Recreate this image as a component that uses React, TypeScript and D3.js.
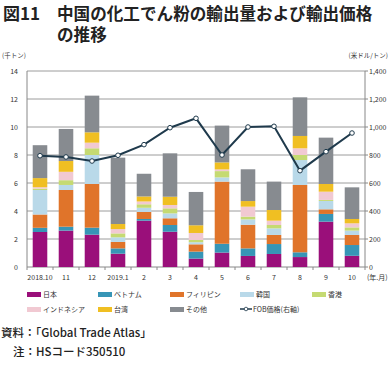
import React from "react";
import * as d3 from "d3";

const categories = ["2018.10", "11", "12", "2019.1", "2", "3", "4", "5", "6", "7", "8", "9", "10"];
const seriesNames = ["日本", "ベトナム", "フィリピン", "韓国", "香港", "インドネシア", "台湾", "その他"];
const seriesColors = ["#9A0F7A", "#3795B6", "#E0742A", "#B9D9E9", "#C5DA72", "#F1C9D2", "#F0BF22", "#878B90"];

const japan = [2.5, 2.6, 2.31, 0.95, 3.31, 2.52, 0.6, 1.03, 0.79, 0.93, 0.71, 3.24, 0.8];
const vietnam = [0.3, 0.28, 0.5, 0.38, 0.12, 0.48, 0.5, 0.63, 0.54, 0.71, 0.34, 0.55, 0.77];
const philippines = [0.95, 2.62, 3.12, 0.46, 0.5, 0.48, 0.52, 4.44, 1.69, 0.65, 4.81, 0.33, 0.72];
const korea = [1.75, 0.36, 2.07, 0.33, 0.3, 0.35, 0.15, 0.3, 0.38, 0.47, 1.78, 0.6, 0.31];
const hongkong = [0.1, 0.34, 0.48, 0.28, 0.25, 0.36, 0.16, 0.45, 0.2, 0.24, 0.36, 0.07, 0.23];
const indonesia = [0.1, 0.6, 0.4, 0.31, 0.2, 0.24, 0.5, 0.12, 0.71, 0.31, 0.48, 0.59, 0.29];
const taiwan = [0.65, 0.77, 0.74, 0.36, 0.36, 0.59, 0.55, 0.5, 0.4, 0.76, 0.88, 0.55, 0.31];
const others = [2.35, 2.29, 2.62, 4.74, 1.62, 3.1, 2.38, 2.63, 2.27, 2.03, 2.76, 3.31, 2.26];
const fobPrice = [795, 786, 757, 798, 874, 995, 1062, 800, 1000, 1005, 688, 824, 957];

const leftTicks = [0, 2, 4, 6, 8, 10, 12, 14];
const rightTicks = [0, 200, 400, 600, 800, 1000, 1200, 1400];

const series = [japan, vietnam, philippines, korea, hongkong, indonesia, taiwan, others];

const FONT = "'Noto Sans CJK JP', 'Noto Sans', sans-serif";

export default function App() {
  const left = 27, right = 365, top = 71, bottom = 267;
  const x = d3.scaleBand<string>().domain(categories).range([left, right]).paddingInner(0.44).paddingOuter(0.22);
  const yL = d3.scaleLinear().domain([0, 14]).range([bottom, top]);
  const yR = d3.scaleLinear().domain([0, 1400]).range([bottom, top]);

  const rows = categories.map((c, i) => {
    const o: any = { cat: c };
    seriesNames.forEach((n, k) => (o[n] = series[k][i]));
    return o;
  });
  const stacked = d3.stack<any>().keys(seriesNames)(rows);

  const line = d3
    .line<number>()
    .x((_, i) => (x(categories[i]) as number) + x.bandwidth() / 2)
    .y((d) => yR(d));

  const legendCols = [27, 98, 170, 240, 312];
  const legendRows = [294, 309];
  const legendItems = seriesNames.map((n, k) => ({ name: n, color: seriesColors[k] }));

  const textCol = "#333";

  return (
    <svg width={392} height={365} style={{ position: "absolute", left: 0, top: 0, background: "#fff" }} fontFamily={FONT}>
      {/* title */}
      <text x={3} y={20} fontSize={17} fontWeight="bold" fill="#222">図11</text>
      <text x={57} y={20} fontSize={16.6} fontWeight="bold" fill="#222">中国の化工でん粉の輸出量および輸出価格</text>
      <text x={57} y={41} fontSize={16.6} fontWeight="bold" fill="#222">の推移</text>

      {/* unit labels */}
      <text x={2} y={58} fontSize={6.5} fill={textCol}>(千トン)</text>
      <text x={388} y={58} fontSize={6.5} fill={textCol} textAnchor="end">(米ドル/トン)</text>

      {/* grid */}
      {leftTicks.map((t) => (
        <line key={"g" + t} x1={left} x2={right} y1={yL(t)} y2={yL(t)} stroke={t === 0 ? "#888" : "#9c9c9c"} strokeWidth={1} />
      ))}
      <line x1={left} x2={left} y1={top} y2={bottom} stroke="#888" />
      <line x1={right} x2={right} y1={top} y2={bottom} stroke="#888" />
      {rightTicks.map((t) => (
        <line key={"rt" + t} x1={right} x2={right + 3} y1={yR(t)} y2={yR(t)} stroke="#888" />
      ))}
      {categories.map((c, i) => (
        <line key={"xt" + i} x1={(x(c) as number) - (x.step() - x.bandwidth()) / 2} x2={(x(c) as number) - (x.step() - x.bandwidth()) / 2} y1={bottom} y2={bottom + 3} stroke="#888" />
      ))}
      <line x1={right} x2={right} y1={bottom} y2={bottom + 3} stroke="#888" />

      {/* tick labels */}
      {leftTicks.map((t) => (
        <text key={"lt" + t} x={18} y={yL(t) + 2.5} fontSize={7} textAnchor="end" fill={textCol}>{t}</text>
      ))}
      {rightTicks.map((t) => (
        <text key={"rl" + t} x={369} y={yR(t) + 2.5} fontSize={7} fill={textCol}>{d3.format(",")(t)}</text>
      ))}
      {categories.map((c) => (
        <text key={"xl" + c} x={(x(c) as number) + x.bandwidth() / 2} y={280} fontSize={7} textAnchor="middle" fill={textCol}>{c}</text>
      ))}
      <text x={367} y={280} fontSize={7} fill={textCol}>(年.月)</text>

      {/* bars */}
      {stacked.map((s, k) => (
        <g key={s.key} fill={seriesColors[k]}>
          {s.map((d, i) => (
            <rect key={i} x={x(categories[i])} width={x.bandwidth()} y={yL(d[1])} height={Math.max(0, yL(d[0]) - yL(d[1]))} />
          ))}
        </g>
      ))}

      {/* line */}
      <path d={line(fobPrice) || ""} fill="none" stroke="#1F3A4C" strokeWidth={2} />
      {fobPrice.map((v, i) => (
        <circle key={"p" + i} cx={(x(categories[i]) as number) + x.bandwidth() / 2} cy={yR(v)} r={2.3} fill="#fff" stroke="#1F3A4C" strokeWidth={1} />
      ))}

      {/* legend */}
      {legendItems.map((it, k) => {
        const col = k % 5;
        const row = Math.floor(k / 5);
        const lx = legendCols[col];
        const ly = legendRows[row];
        return (
          <g key={it.name}>
            <rect x={lx} y={ly - 2} width={14} height={5} fill={it.color} />
            <text x={lx + 16} y={ly + 2.5} fontSize={7} fill={textCol}>{it.name}</text>
          </g>
        );
      })}
      <g>
        <line x1={legendCols[3]} x2={legendCols[3] + 12} y1={legendRows[1]} y2={legendRows[1]} stroke="#1F3A4C" strokeWidth={1.5} />
        <circle cx={legendCols[3] + 6} cy={legendRows[1]} r={1.8} fill="#fff" stroke="#1F3A4C" strokeWidth={0.8} />
        <text x={legendCols[3] + 13} y={legendRows[1] + 2.5} fontSize={7} fill={textCol}>FOB価格(右軸)</text>
      </g>

      {/* footer */}
      <text x={1} y={337} fontSize={11.5} fontWeight="500" fill="#222">資料：「Global Trade Atlas」</text>
      <text x={13} y={356} fontSize={11.5} fontWeight="500" fill="#222">注：HSコード350510</text>
    </svg>
  );
}
